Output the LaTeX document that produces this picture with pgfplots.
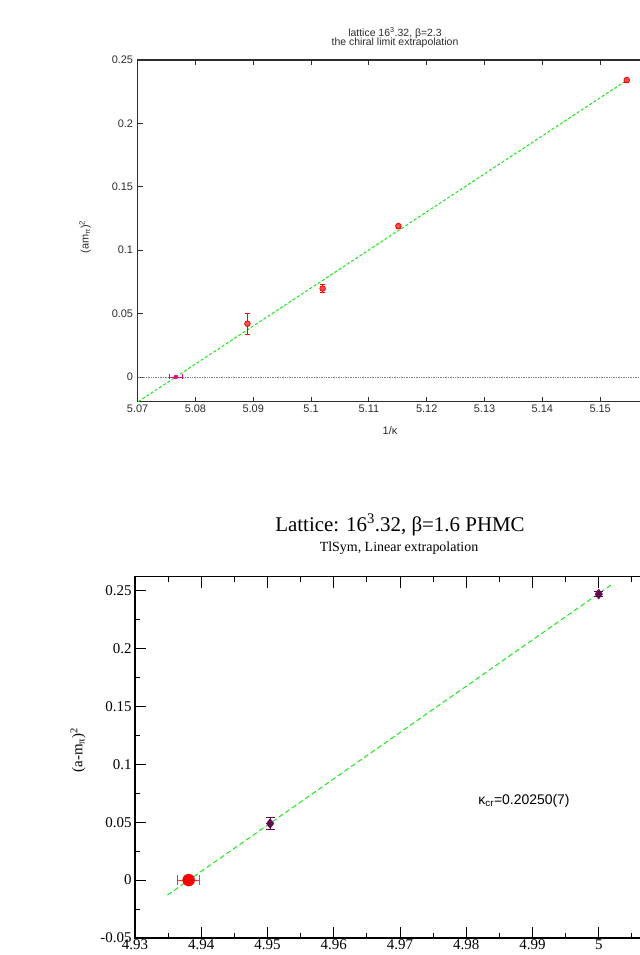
\documentclass[border=0pt]{standalone}
\usepackage{fontspec}
\setmainfont{Liberation Serif}
\newfontfamily\sans{Liberation Sans}
\usepackage{pgfplots}
\pgfplotsset{compat=1.18}
\definecolor{fitgreen}{RGB}{20,235,20}
\definecolor{grpurple}{RGB}{100,10,80}
\definecolor{axgray}{RGB}{45,45,45}

\begin{document}
\begin{tikzpicture}
% ---- top panel: lattice 16^3.32, beta=2.3
\begin{axis}[
    at={(137.6bp,553.3bp)}, anchor=south west,
    scale only axis, width=520.4bp, height=341.7bp,
    xmin=5.07, xmax=5.16, ymin=-0.0195, ymax=0.25,
    xtick={5.07,5.08,5.09,5.10,5.11,5.12,5.13,5.14,5.15},
    ytick={0,0.05,0.1,0.15,0.2,0.25},
    scaled ticks=false,
    /pgf/number format/fixed, /pgf/number format/precision=3,
    /pgf/number format/assume math mode=true,
    tick align=inside, major tick length=5bp,
    axis line style={axgray, line width=1.2bp},
    tick style={axgray, line width=0.8bp},
    tick label style={font=\sans\fontsize{11}{13}\selectfont, text=axgray},
    yticklabel style={xshift=-1bp},
]
\addplot[gray, densely dotted, line width=0.7bp] coordinates {(5.07,0) (5.16,0)};
\addplot[fitgreen, line width=1bp, dash pattern=on 3bp off 2bp] coordinates {(5.0701,-0.0195) (5.1546,0.2340)};
\addplot[red, only marks, mark=*, mark size=2.8bp,
    mark options={fill=red!70, draw=red, line width=0.8bp},
    error bars/.cd, y dir=both, y explicit,
    error bar style={draw=red, line width=0.8bp},
    error mark options={rotate=90, draw=red, mark size=2.5bp, line width=0.8bp}]
coordinates {
    (5.0890,0.0420) +- (0,0.0085)
    (5.1020,0.0697) +- (0,0.0030)
    (5.1151,0.1190) +- (0,0.0015)
    (5.1546,0.2342) +- (0,0.0015)
};
\addplot[magenta, only marks, mark=*, mark size=2bp,
    error bars/.cd, x dir=both, x explicit,
    error bar style={draw=magenta, line width=0.8bp},
    error mark options={rotate=90, draw=magenta, mark size=2.5bp, line width=0.8bp}]
coordinates {(5.0766,0) +- (0.0011,0)};
\end{axis}
\node[font=\sans\fontsize{10.5}{12}\selectfont, text=axgray] at (395bp,922bp) {lattice 16\textsuperscript{3}.32, β=2.3};
\node[font=\sans\fontsize{10.5}{12}\selectfont, text=axgray] at (395bp,912bp) {the chiral limit extrapolation};
\node[font=\sans\fontsize{11}{13}\selectfont, text=axgray] at (390bp,524bp) {1/κ};
\node[rotate=90, font=\sans\fontsize{11}{13}\selectfont, text=axgray] at (85bp,718bp) {(am\textsubscript{π})\textsuperscript{2}};

% ---- bottom panel: lattice 16^3.32, beta=1.6 PHMC
\begin{axis}[
    at={(135bp,17bp)}, anchor=south west,
    scale only axis, width=530bp, height=361.3bp,
    xmin=4.93, xmax=5.01, ymin=-0.05, ymax=0.262,
    xtick={4.93,4.94,4.95,4.96,4.97,4.98,4.99,5.00,5.01},
    ytick={-0.05,0,0.05,0.1,0.15,0.2,0.25},
    minor x tick num=1, minor y tick num=1,
    scaled ticks=false,
    /pgf/number format/fixed, /pgf/number format/precision=3,
    /pgf/number format/assume math mode=true,
    tick align=inside, major tick length=11bp, minor tick length=5bp,
    axis line style={black, line width=1.4bp},
    tick style={black, line width=1bp},
    tick label style={font=\fontsize{15}{17}\selectfont},
    xticklabel style={yshift=2bp},
]
\addplot[fitgreen, line width=1bp, dash pattern=on 5bp off 3bp] coordinates {(4.9349,-0.0129) (5.0019,0.2550)};
\addplot[red, only marks, mark=*, mark size=6bp,
    error bars/.cd, x dir=both, x explicit,
    error bar style={draw=red!80, line width=1bp},
    error mark options={rotate=90, draw=red!80, mark size=5bp, line width=1bp}]
coordinates {(4.9381,0) +- (0.0017,0)};
\addplot[grpurple, only marks, mark=diamond*, mark size=5bp,
    error bars/.cd, y dir=both, y explicit,
    error bar style={draw=grpurple, line width=1bp},
    error mark options={rotate=90, draw=grpurple, mark size=4.5bp, line width=1bp}]
coordinates {
    (4.9504,0.0489) +- (0,0.0050)
    (5.0000,0.2470) +- (0,0.0020)
};
\end{axis}
\node[font=\fontsize{21}{24}\selectfont] at (400bp,430bp) {Lattice: 16\textsuperscript{3}.32, β=1.6 PHMC};
\node[font=\fontsize{14}{16}\selectfont] at (399bp,407bp) {TlSym, Linear extrapolation};
\node[rotate=90, font=\fontsize{15}{17}\selectfont] at (78bp,205bp) {(a-m\textsubscript{π})\textsuperscript{2}};
\node[font=\sans\fontsize{14}{16}\selectfont] at (524bp,154bp) {κ\textsubscript{cr}=0.20250(7)};

\pgfresetboundingbox
\useasboundingbox (0,0) rectangle (640bp,955bp);
\end{tikzpicture}
\end{document}
